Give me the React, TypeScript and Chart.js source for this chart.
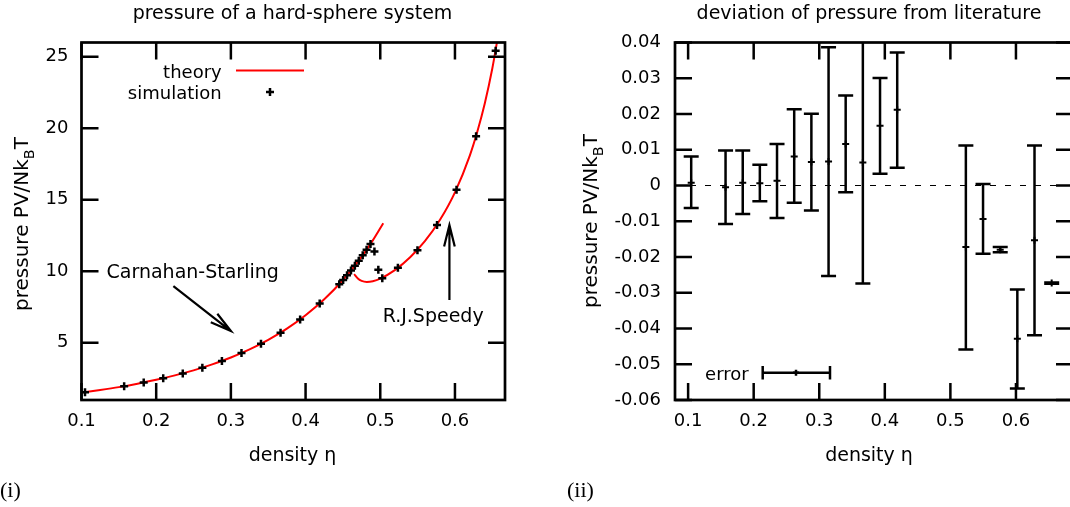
import React, { useEffect, useRef } from 'react';
import { Chart, registerables } from 'chart.js';
Chart.register(...registerables);

// ---------------- panel (i): pressure of a hard-sphere system ----------------
const simEta = [0.1047, 0.1571, 0.1833, 0.2094, 0.2356, 0.2618, 0.2880, 0.3142, 0.3403, 0.3665, 0.3927, 0.4189, 0.4451, 0.4503, 0.4555, 0.4608, 0.4660, 0.4712, 0.4765, 0.4817, 0.4869, 0.4922, 0.4974, 0.5027, 0.5236, 0.5498, 0.5760, 0.6021, 0.6283, 0.6545];
const simPressure = [1.55, 1.97, 2.22, 2.52, 2.86, 3.26, 3.73, 4.28, 4.93, 5.71, 6.63, 7.75, 9.10, 9.40, 9.72, 10.05, 10.39, 10.74, 11.12, 11.51, 11.91, 11.38, 10.10, 9.52, 10.24, 11.48, 13.24, 15.70, 19.45, 25.42];

const csEta = [0.100, 0.125, 0.150, 0.175, 0.200, 0.225, 0.250, 0.275, 0.300, 0.325, 0.350, 0.375, 0.400, 0.425, 0.450, 0.475, 0.490, 0.504];
const csPressure = [1.52, 1.70, 1.90, 2.14, 2.41, 2.72, 3.07, 3.49, 3.97, 4.54, 5.21, 5.99, 6.93, 8.04, 9.39, 11.01, 12.16, 13.36];

const speedyEta = [0.465, 0.470, 0.475, 0.482, 0.490, 0.500, 0.520, 0.540, 0.560, 0.580, 0.600, 0.620, 0.630, 0.640, 0.650, 0.6565];
const speedyPressure = [9.80, 9.49, 9.33, 9.26, 9.31, 9.49, 10.10, 10.98, 12.12, 13.60, 15.52, 18.11, 19.77, 21.75, 24.18, 26.10];

const leftXTicks = [0.1, 0.2, 0.3, 0.4, 0.5, 0.6];
const leftYTicks = [5, 10, 15, 20, 25];

// ---------------- panel (ii): deviation of pressure from literature ----------------
const devEta = [0.1047, 0.1571, 0.1833, 0.2094, 0.2356, 0.2618, 0.2880, 0.3142, 0.3403, 0.3665, 0.3927, 0.4189, 0.5236, 0.5498, 0.5760, 0.6021, 0.6283, 0.6545];
const devValue = [0.0008, -0.0005, 0.0008, 0.0006, 0.0013, 0.0081, 0.0066, 0.0067, 0.0116, 0.0064, 0.0167, 0.0212, -0.0172, -0.0094, -0.0180, -0.0429, -0.0153, -0.0273];
const devLow = [-0.0063, -0.0108, -0.0080, -0.0044, -0.0091, -0.0048, -0.0070, -0.0253, -0.0019, -0.0274, 0.0033, 0.0050, -0.0459, -0.0191, -0.0187, -0.0568, -0.0419, -0.0275];
const devHigh = [0.0081, 0.0098, 0.0098, 0.0058, 0.0116, 0.0213, 0.0201, 0.0387, 0.0252, 0.0402, 0.0301, 0.0372, 0.0112, 0.0004, -0.0172, -0.0291, 0.0112, -0.0271];

const rightXTicks = [0.1, 0.2, 0.3, 0.4, 0.5, 0.6];
const rightYTicks = [-0.06, -0.05, -0.04, -0.03, -0.02, -0.01, 0, 0.01, 0.02, 0.03, 0.04];

const leftTitle = 'pressure of a hard-sphere system';
const rightTitle = 'deviation of pressure from literature';
const xTitle = 'density η';

const FONT = "'DejaVu Sans', sans-serif";
const SERIF = "'Liberation Serif', 'DejaVu Serif', serif";
const TICK = 18;
const TXT = 19;
const RIGHT_OFFSET = 535;

function frameAndTicks(chart: any) {
  const { ctx, chartArea: a, scales } = chart;
  const x = scales.x, y = scales.y;
  const L = 17;
  ctx.save();
  ctx.strokeStyle = '#000';
  ctx.lineWidth = 2.5;
  ctx.beginPath();
  for (const t of x.ticks) {
    const px = x.getPixelForValue(t.value);
    ctx.moveTo(px, a.bottom); ctx.lineTo(px, a.bottom - L);
    ctx.moveTo(px, a.top); ctx.lineTo(px, a.top + L);
  }
  for (const t of y.ticks) {
    const py = y.getPixelForValue(t.value);
    ctx.moveTo(a.left, py); ctx.lineTo(a.left + L, py);
    ctx.moveTo(a.right, py); ctx.lineTo(a.right - L, py);
  }
  ctx.stroke();
  ctx.lineWidth = 2.7;
  ctx.strokeRect(a.left, a.top, a.right - a.left, a.bottom - a.top);
  ctx.restore();
}

function text(ctx: any, s: string, x: number, y: number, size: number, align: string, family = FONT) {
  ctx.save();
  ctx.font = `${size}px ${family}`;
  ctx.fillStyle = '#000';
  ctx.textAlign = align;
  ctx.textBaseline = 'alphabetic';
  ctx.fillText(s, x, y);
  ctx.restore();
}

function yTitle(ctx: any, cx: number, cy: number, size: number) {
  const main = 'pressure PV/Nk';
  const sub = 'B';
  const tail = 'T';
  ctx.save();
  ctx.translate(cx, cy);
  ctx.rotate(-Math.PI / 2);
  ctx.fillStyle = '#000';
  ctx.textBaseline = 'alphabetic';
  ctx.textAlign = 'left';
  ctx.font = `${size}px ${FONT}`;
  const w1 = ctx.measureText(main).width;
  const w3 = ctx.measureText(tail).width;
  ctx.font = `${size * 0.72}px ${FONT}`;
  const w2 = ctx.measureText(sub).width;
  const start = -(w1 + w2 + w3) / 2;
  ctx.font = `${size}px ${FONT}`;
  ctx.fillText(main, start, 0);
  ctx.fillText(tail, start + w1 + w2, 0);
  ctx.font = `${size * 0.72}px ${FONT}`;
  ctx.fillText(sub, start + w1, size * 0.3);
  ctx.restore();
}

function arrow(ctx: any, x1: number, y1: number, x2: number, y2: number) {
  const ang = Math.atan2(y2 - y1, x2 - x1);
  const head = 22, spread = (14 * Math.PI) / 180;
  ctx.save();
  ctx.strokeStyle = '#000';
  ctx.lineWidth = 2.2;
  ctx.beginPath();
  ctx.moveTo(x1, y1); ctx.lineTo(x2, y2);
  ctx.moveTo(x2 - head * Math.cos(ang - spread), y2 - head * Math.sin(ang - spread));
  ctx.lineTo(x2, y2);
  ctx.lineTo(x2 - head * Math.cos(ang + spread), y2 - head * Math.sin(ang + spread));
  ctx.stroke();
  ctx.restore();
}

function plus(ctx: any, x: number, y: number, r: number) {
  ctx.save();
  ctx.strokeStyle = '#000';
  ctx.lineWidth = 2.5;
  ctx.beginPath();
  ctx.moveTo(x - r, y); ctx.lineTo(x + r, y);
  ctx.moveTo(x, y - r); ctx.lineTo(x, y + r);
  ctx.stroke();
  ctx.restore();
}

const leftPlugin = {
  id: 'leftDecor',
  afterDraw(chart: any) {
    const { ctx, scales } = chart;
    const x = scales.x, y = scales.y;
    frameAndTicks(chart);
    // legend
    text(ctx, 'theory', 221.7, 78, TICK, 'right');
    ctx.save();
    ctx.strokeStyle = '#ff0000';
    ctx.lineWidth = 2;
    ctx.beginPath(); ctx.moveTo(236, 70.5); ctx.lineTo(304, 70.5); ctx.stroke();
    ctx.restore();
    text(ctx, 'simulation', 221.7, 99, TICK, 'right');
    plus(ctx, 270, 92, 4);
    // annotations (data coordinates)
    text(ctx, 'Carnahan-Starling', x.getPixelForValue(0.1335), y.getPixelForValue(9.52), TXT, 'left');
    arrow(ctx, x.getPixelForValue(0.223), y.getPixelForValue(8.96), x.getPixelForValue(0.300), y.getPixelForValue(5.82));
    text(ctx, 'R.J.Speedy', x.getPixelForValue(0.5032), y.getPixelForValue(6.44), TXT, 'left');
    arrow(ctx, x.getPixelForValue(0.5926), y.getPixelForValue(8.0), x.getPixelForValue(0.5926), y.getPixelForValue(13.23));
    // titles
    text(ctx, leftTitle, 292.5, 18.5, TXT, 'center');
    text(ctx, xTitle, 292.5, 461, TXT, 'center');
    yTitle(ctx, 28, 224, 20);
    text(ctx, '(i)', 0, 497, 22, 'left', SERIF);
  },
};

const rightPlugin = {
  id: 'rightDecor',
  beforeDatasetsDraw(chart: any) {
    const { ctx, chartArea: a, scales } = chart;
    const x = scales.x, y = scales.y;
    ctx.save();
    ctx.beginPath();
    ctx.rect(a.left, a.top, a.right - a.left, a.bottom - a.top);
    ctx.clip();
    ctx.strokeStyle = '#000';
    ctx.lineWidth = 1;
    ctx.setLineDash([6, 9]);
    const y0 = y.getPixelForValue(0);
    ctx.beginPath(); ctx.moveTo(a.left, y0); ctx.lineTo(a.right, y0); ctx.stroke();
    ctx.setLineDash([]);
    ctx.lineWidth = 2.5;
    devEta.forEach((e, i) => {
      const px = x.getPixelForValue(e);
      const pl = y.getPixelForValue(devLow[i]);
      const ph = y.getPixelForValue(devHigh[i]);
      ctx.beginPath();
      ctx.moveTo(px, pl); ctx.lineTo(px, ph);
      ctx.moveTo(px - 7.5, pl); ctx.lineTo(px + 7.5, pl);
      ctx.moveTo(px - 7.5, ph); ctx.lineTo(px + 7.5, ph);
      ctx.stroke();
    });
    ctx.restore();
  },
  afterDraw(chart: any) {
    const { ctx } = chart;
    const o = RIGHT_OFFSET;
    frameAndTicks(chart);
    // legend
    text(ctx, 'error', 748.7 - o, 380, TICK, 'right');
    ctx.save();
    ctx.strokeStyle = '#000';
    ctx.lineWidth = 2.5;
    ctx.beginPath();
    ctx.moveTo(762.7 - o, 372.7); ctx.lineTo(830 - o, 372.7);
    ctx.moveTo(762.7 - o, 366); ctx.lineTo(762.7 - o, 379.5);
    ctx.moveTo(830 - o, 366); ctx.lineTo(830 - o, 379.5);
    ctx.stroke();
    ctx.restore();
    plus(ctx, 796 - o, 372.7, 3);
    // titles
    text(ctx, rightTitle, 869 - o, 18.5, TXT, 'center');
    text(ctx, xTitle, 869 - o, 461, TXT, 'center');
    yTitle(ctx, 597 - o, 221, 20);
    text(ctx, '(ii)', 567 - o, 497, 22, 'left', SERIF);
  },
};

const tickFont = { family: FONT, size: TICK };
const setTicks = (vals: number[]) => (s: any) => { s.ticks = vals.map((v) => ({ value: v })); };

export default function App() {
  const leftRef = useRef<HTMLCanvasElement>(null);
  const rightRef = useRef<HTMLCanvasElement>(null);

  useEffect(() => {
    const left = new Chart(leftRef.current as HTMLCanvasElement, {
      type: 'scatter',
      data: {
        datasets: [
          {
            label: 'simulation',
            data: simEta.map((v, i) => ({ x: v, y: simPressure[i] })),
            pointStyle: 'cross',
            pointRadius: 4,
            pointBorderWidth: 2.5,
            borderColor: '#000',
            backgroundColor: '#000',
            showLine: false,
          },
          {
            label: 'theory (Carnahan-Starling)',
            data: csEta.map((v, i) => ({ x: v, y: csPressure[i] })),
            showLine: true,
            borderColor: '#ff0000',
            borderWidth: 2,
            pointRadius: 0,
            cubicInterpolationMode: 'monotone',
            fill: false,
          },
          {
            label: 'theory (Speedy)',
            data: speedyEta.map((v, i) => ({ x: v, y: speedyPressure[i] })),
            showLine: true,
            borderColor: '#ff0000',
            borderWidth: 2,
            pointRadius: 0,
            cubicInterpolationMode: 'monotone',
            fill: false,
          },
        ],
      } as any,
      options: {
        animation: false,
        responsive: false,
        maintainAspectRatio: false,
        events: [],
        layout: { padding: { top: 42.5, right: 30, bottom: 0, left: 0 } },
        plugins: { legend: { display: false }, tooltip: { enabled: false }, title: { display: false } },
        scales: {
          x: {
            type: 'linear', min: 0.1, max: 0.667,
            grid: { display: false, drawTicks: false }, border: { display: false },
            afterBuildTicks: setTicks(leftXTicks),
            ticks: { autoSkip: false, padding: 11, color: '#000', font: tickFont, maxRotation: 0, callback: (v: any) => Number(v).toFixed(1) },
            afterFit: (s: any) => { s.height = 107; },
          },
          y: {
            type: 'linear', min: 1, max: 26,
            grid: { display: false, drawTicks: false }, border: { display: false },
            afterBuildTicks: setTicks(leftYTicks),
            ticks: { autoSkip: false, padding: 13, color: '#000', font: tickFont, callback: (v: any) => String(v) },
            afterFit: (s: any) => { s.width = 81.5; },
          },
        },
      } as any,
      plugins: [leftPlugin],
    });

    const right = new Chart(rightRef.current as HTMLCanvasElement, {
      type: 'scatter',
      data: {
        datasets: [
          {
            label: 'error',
            data: devEta.map((v, i) => ({ x: v, y: devValue[i] })),
            pointStyle: 'cross',
            pointRadius: 3.5,
            pointBorderWidth: 2,
            borderColor: '#000',
            backgroundColor: '#000',
            showLine: false,
          },
        ],
      } as any,
      options: {
        animation: false,
        responsive: false,
        maintainAspectRatio: false,
        events: [],
        layout: { padding: { top: 42.5, right: 7, bottom: 0, left: 0 } },
        plugins: { legend: { display: false }, tooltip: { enabled: false }, title: { display: false } },
        scales: {
          x: {
            type: 'linear', min: 0.08, max: 0.687,
            grid: { display: false, drawTicks: false }, border: { display: false },
            afterBuildTicks: setTicks(rightXTicks),
            ticks: { autoSkip: false, padding: 11, color: '#000', font: tickFont, maxRotation: 0, callback: (v: any) => Number(v).toFixed(1) },
            afterFit: (s: any) => { s.height = 107; },
          },
          y: {
            type: 'linear', min: -0.06, max: 0.04,
            grid: { display: false, drawTicks: false }, border: { display: false },
            afterBuildTicks: setTicks(rightYTicks),
            ticks: { autoSkip: false, padding: 14, color: '#000', font: tickFont, callback: (v: any) => (Math.abs(Number(v)) < 1e-9 ? '0' : Number(v).toFixed(2)) },
            afterFit: (s: any) => { s.width = 140; },
          },
        },
      } as any,
      plugins: [rightPlugin],
    });

    return () => {
      left.destroy();
      right.destroy();
    };
  }, []);

  return (
    <div style={{ position: 'fixed', left: 0, top: 0, width: 1070, height: 507, overflow: 'hidden', background: '#fff' }}>
      <canvas ref={leftRef} width={535} height={507} style={{ position: 'absolute', left: 0, top: 0 }} />
      <canvas ref={rightRef} width={545} height={507} style={{ position: 'absolute', left: RIGHT_OFFSET, top: 0 }} />
    </div>
  );
}
